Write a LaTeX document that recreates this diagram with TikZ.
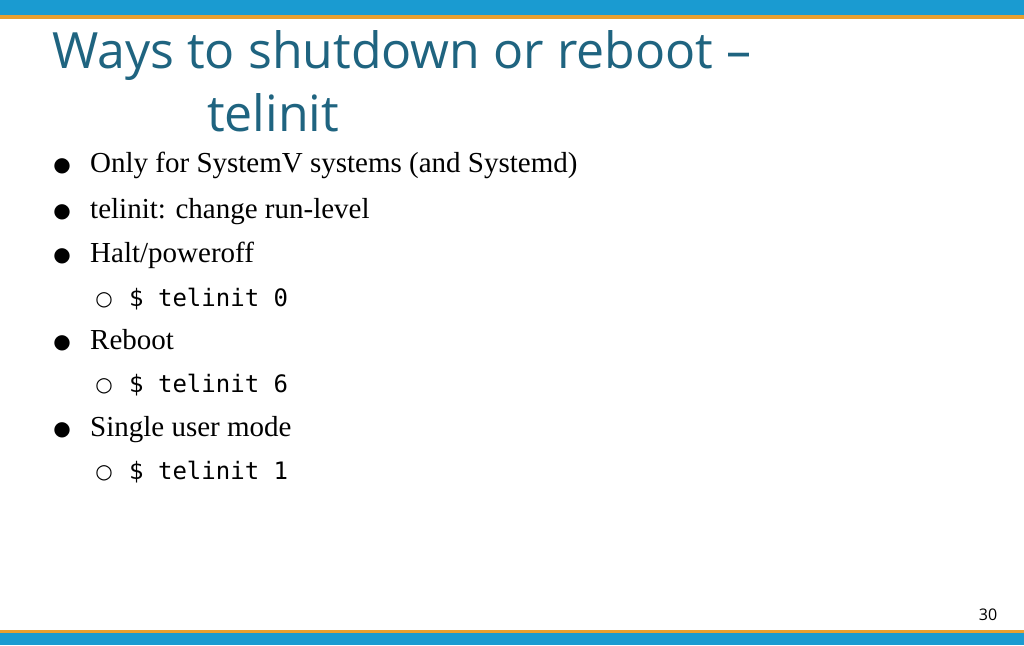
\documentclass[tikz,border=0pt]{standalone}
\usepackage{fontspec}
\setmainfont{Liberation Serif}
\setsansfont{Open Sans}
\setmonofont{DejaVu Sans Mono}
\newfontfamily\symfont{DejaVu Sans}
\definecolor{barblue}{HTML}{1A9BD1}
\definecolor{barorange}{HTML}{E8A030}
\definecolor{titleteal}{HTML}{1F6480}

\begin{document}
\begin{tikzpicture}[x=1pt,y=-1pt]
        \tikzstyle{titletext} = [anchor=base west, inner sep=0, text=titleteal, font=\sffamily\fontsize{50}{60}\selectfont]
        \tikzstyle{itemtext} = [anchor=base west, inner sep=0, font=\fontsize{29}{34}\selectfont]
        \tikzstyle{codetext} = [anchor=base west, inner sep=0, font=\ttfamily\fontsize{24}{28}\selectfont]
        \tikzstyle{dot} = [anchor=base, inner sep=0, font=\symfont\fontsize{20}{24}\selectfont]

        % Background and bars
        \useasboundingbox (0,0) rectangle (1024,645);
        \fill[white] (0,0) rectangle (1024,645);
        \fill[barblue] (0,0) rectangle (1024,15);
        \fill[barorange] (0,15) rectangle (1024,19);
        \fill[barorange] (0,630) rectangle (1024,633);
        \fill[barblue] (0,633) rectangle (1024,645);

        % Title
        \node (title1) [titletext] at (52,68) {Ways to shutdown or reboot --};
        \node (title2) [titletext] at (207,131) {telinit};

        % Items
        \node (b1) [dot] at (62,171) {●};
        \node (i1) [itemtext] at (90,172) {Only for SystemV systems (and Systemd)};
        \node (b2) [dot] at (62,217) {●};
        \node (i2) [itemtext] at (90,218) {telinit: change run-level};
        \node (b3) [dot] at (62,261) {●};
        \node (i3) [itemtext] at (90,262) {Halt/poweroff};
        \node (s3) [dot] at (104,305) {○};
        \node (c3) [codetext] at (129,306) {\$ telinit 0};
        \node (b4) [dot] at (62,348) {●};
        \node (i4) [itemtext] at (90,349) {Reboot};
        \node (s4) [dot] at (104,391) {○};
        \node (c4) [codetext] at (129,392) {\$ telinit 6};
        \node (b5) [dot] at (62,435) {●};
        \node (i5) [itemtext] at (90,436) {Single user mode};
        \node (s5) [dot] at (104,478) {○};
        \node (c5) [codetext] at (129,479) {\$ telinit 1};

        % Page number
        \node (page) [anchor=base, inner sep=0, font=\sffamily\fontsize{16}{19}\selectfont] at (988,620) {30};
\end{tikzpicture}
\end{document}
